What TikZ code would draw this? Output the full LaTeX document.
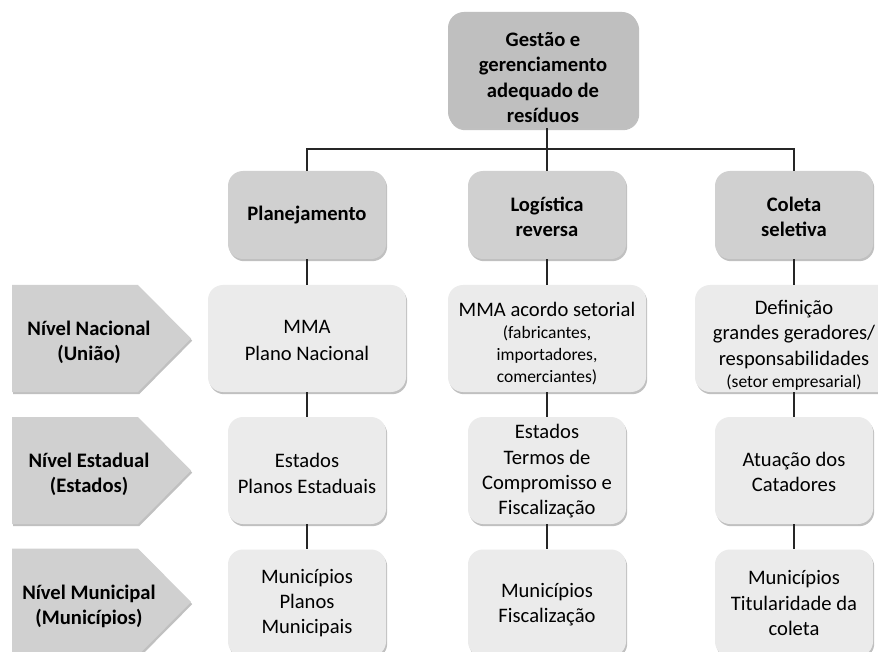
\documentclass[tikz,border=0pt]{standalone}
\usepackage{fontspec}
\setmainfont{Carlito}
\usetikzlibrary{shadows}
\definecolor{topgray}{HTML}{BFBFBF}
\definecolor{catgray}{HTML}{D0D0D0}
\definecolor{lvlgray}{HTML}{EBEBEB}
\definecolor{arrgray}{HTML}{D0D0D0}
\definecolor{linegray}{HTML}{262626}
\newcommand\tpad[1]{\rule{0pt}{#1}}
\newcommand\smalltxt{\fontsize{17.5}{22}\selectfont}
\tikzset{
  shad/.style={drop shadow={shadow xshift=1.2pt,shadow yshift=-2.2pt,opacity=0.35,fill=black!70}},
  topbox/.style={shad,fill=topgray,rounded corners=16pt,minimum width=190pt,minimum height=116pt,inner sep=0pt,align=center,font=\fontsize{20.6}{25.3}\selectfont\bfseries},
  catbox/.style={shad,fill=catgray,rounded corners=15pt,minimum width=158pt,minimum height=88pt,inner sep=0pt,align=center,font=\fontsize{20.6}{25}\selectfont\bfseries},
  lvlbox/.style={shad,fill=lvlgray,rounded corners=15pt,minimum width=158pt,minimum height=107pt,inner sep=0pt,align=center,font=\fontsize{20.6}{25.3}\selectfont},
  widebox/.style={lvlbox,minimum width=198pt},
  arrshape/.style={shad,fill=arrgray},
  arrtext/.style={align=center,inner sep=0pt,font=\fontsize{20.6}{25}\selectfont\bfseries},
  conn/.style={draw=linegray,line width=1.1pt},
}
\begin{document}
\begin{tikzpicture}[x=1pt,y=-1pt]
\useasboundingbox[fill=white] (0,0) rectangle (878,652);
% level arrows
\foreach \yc in {338.5,470.5,602}{
  \path[arrshape] (12,\yc-53.5) -- (138,\yc-53.5) -- (191,\yc) -- (138,\yc+53.5) -- (12,\yc+53.5) -- cycle;
}
\node[arrtext] (a1) at (89,342.5) {Nível Nacional\\(União)};
\node[arrtext] (a2) at (89,474.5) {Nível Estadual\\(Estados)};
\node[arrtext] (a3) at (89,606) {Nível Municipal\\(Municípios)};
% top
\node[topbox] (top) at (543,70) {\tpad{29pt}Gestão e\\gerenciamento\\adequado de\\resíduos};
% categories
\node[catbox] (c1) at (307,215) {Planejamento};
\node[catbox] (c2) at (547,215) {\tpad{18pt}Logística\\reversa};
\node[catbox] (c3) at (794,215) {\tpad{18pt}Coleta\\seletiva};
% level 1
\node[widebox,font=\fontsize{20.6}{22}\selectfont] (n1) at (307,338.5) {\tpad{17pt}MMA\\[5pt]Plano Nacional};
\node[widebox,font=\fontsize{20.6}{22}\selectfont] (n2) at (547,338.5) {\tpad{23.5pt}MMA acordo setorial\\{\smalltxt(fabricantes,}\\{\smalltxt importadores,}\\{\smalltxt comerciantes)}};
\node[widebox] (n3) at (794,338.5) {\tpad{27.5pt}Definição\\grandes geradores/\\responsabilidades\\[-3.3pt]{\smalltxt(setor empresarial)}};
% level 2
\node[lvlbox] (e1) at (307,470.5) {\tpad{20pt}Estados\\Planos Estaduais};
\node[lvlbox] (e2) at (547,470.5) {\tpad{16pt}Estados\\Termos de\\Compromisso e\\Fiscalização};
\node[lvlbox] (e3) at (794,470.5) {\tpad{17pt}Atuação dos\\Catadores};
% level 3
\node[lvlbox] (m1) at (307,603) {Municípios\\Planos\\Municipais};
\node[lvlbox] (m2) at (547,603) {\tpad{18pt}Municípios\\Fiscalização};
\node[lvlbox] (m3) at (794,603) {Municípios\\Titularidade da\\coleta};
% connectors
\coordinate (j) at (547,149);
\draw[conn] (top.south -| j) -- (c2.north);
\draw[conn] (c1.north) |- (j) -| (c3.north);
\foreach \c in {1,2,3}{
  \draw[conn] (c\c.south) -- (n\c.north);
  \draw[conn] (n\c.south) -- (e\c.north);
  \draw[conn] (e\c.south) -- (m\c.north);
}
\end{tikzpicture}
\end{document}
